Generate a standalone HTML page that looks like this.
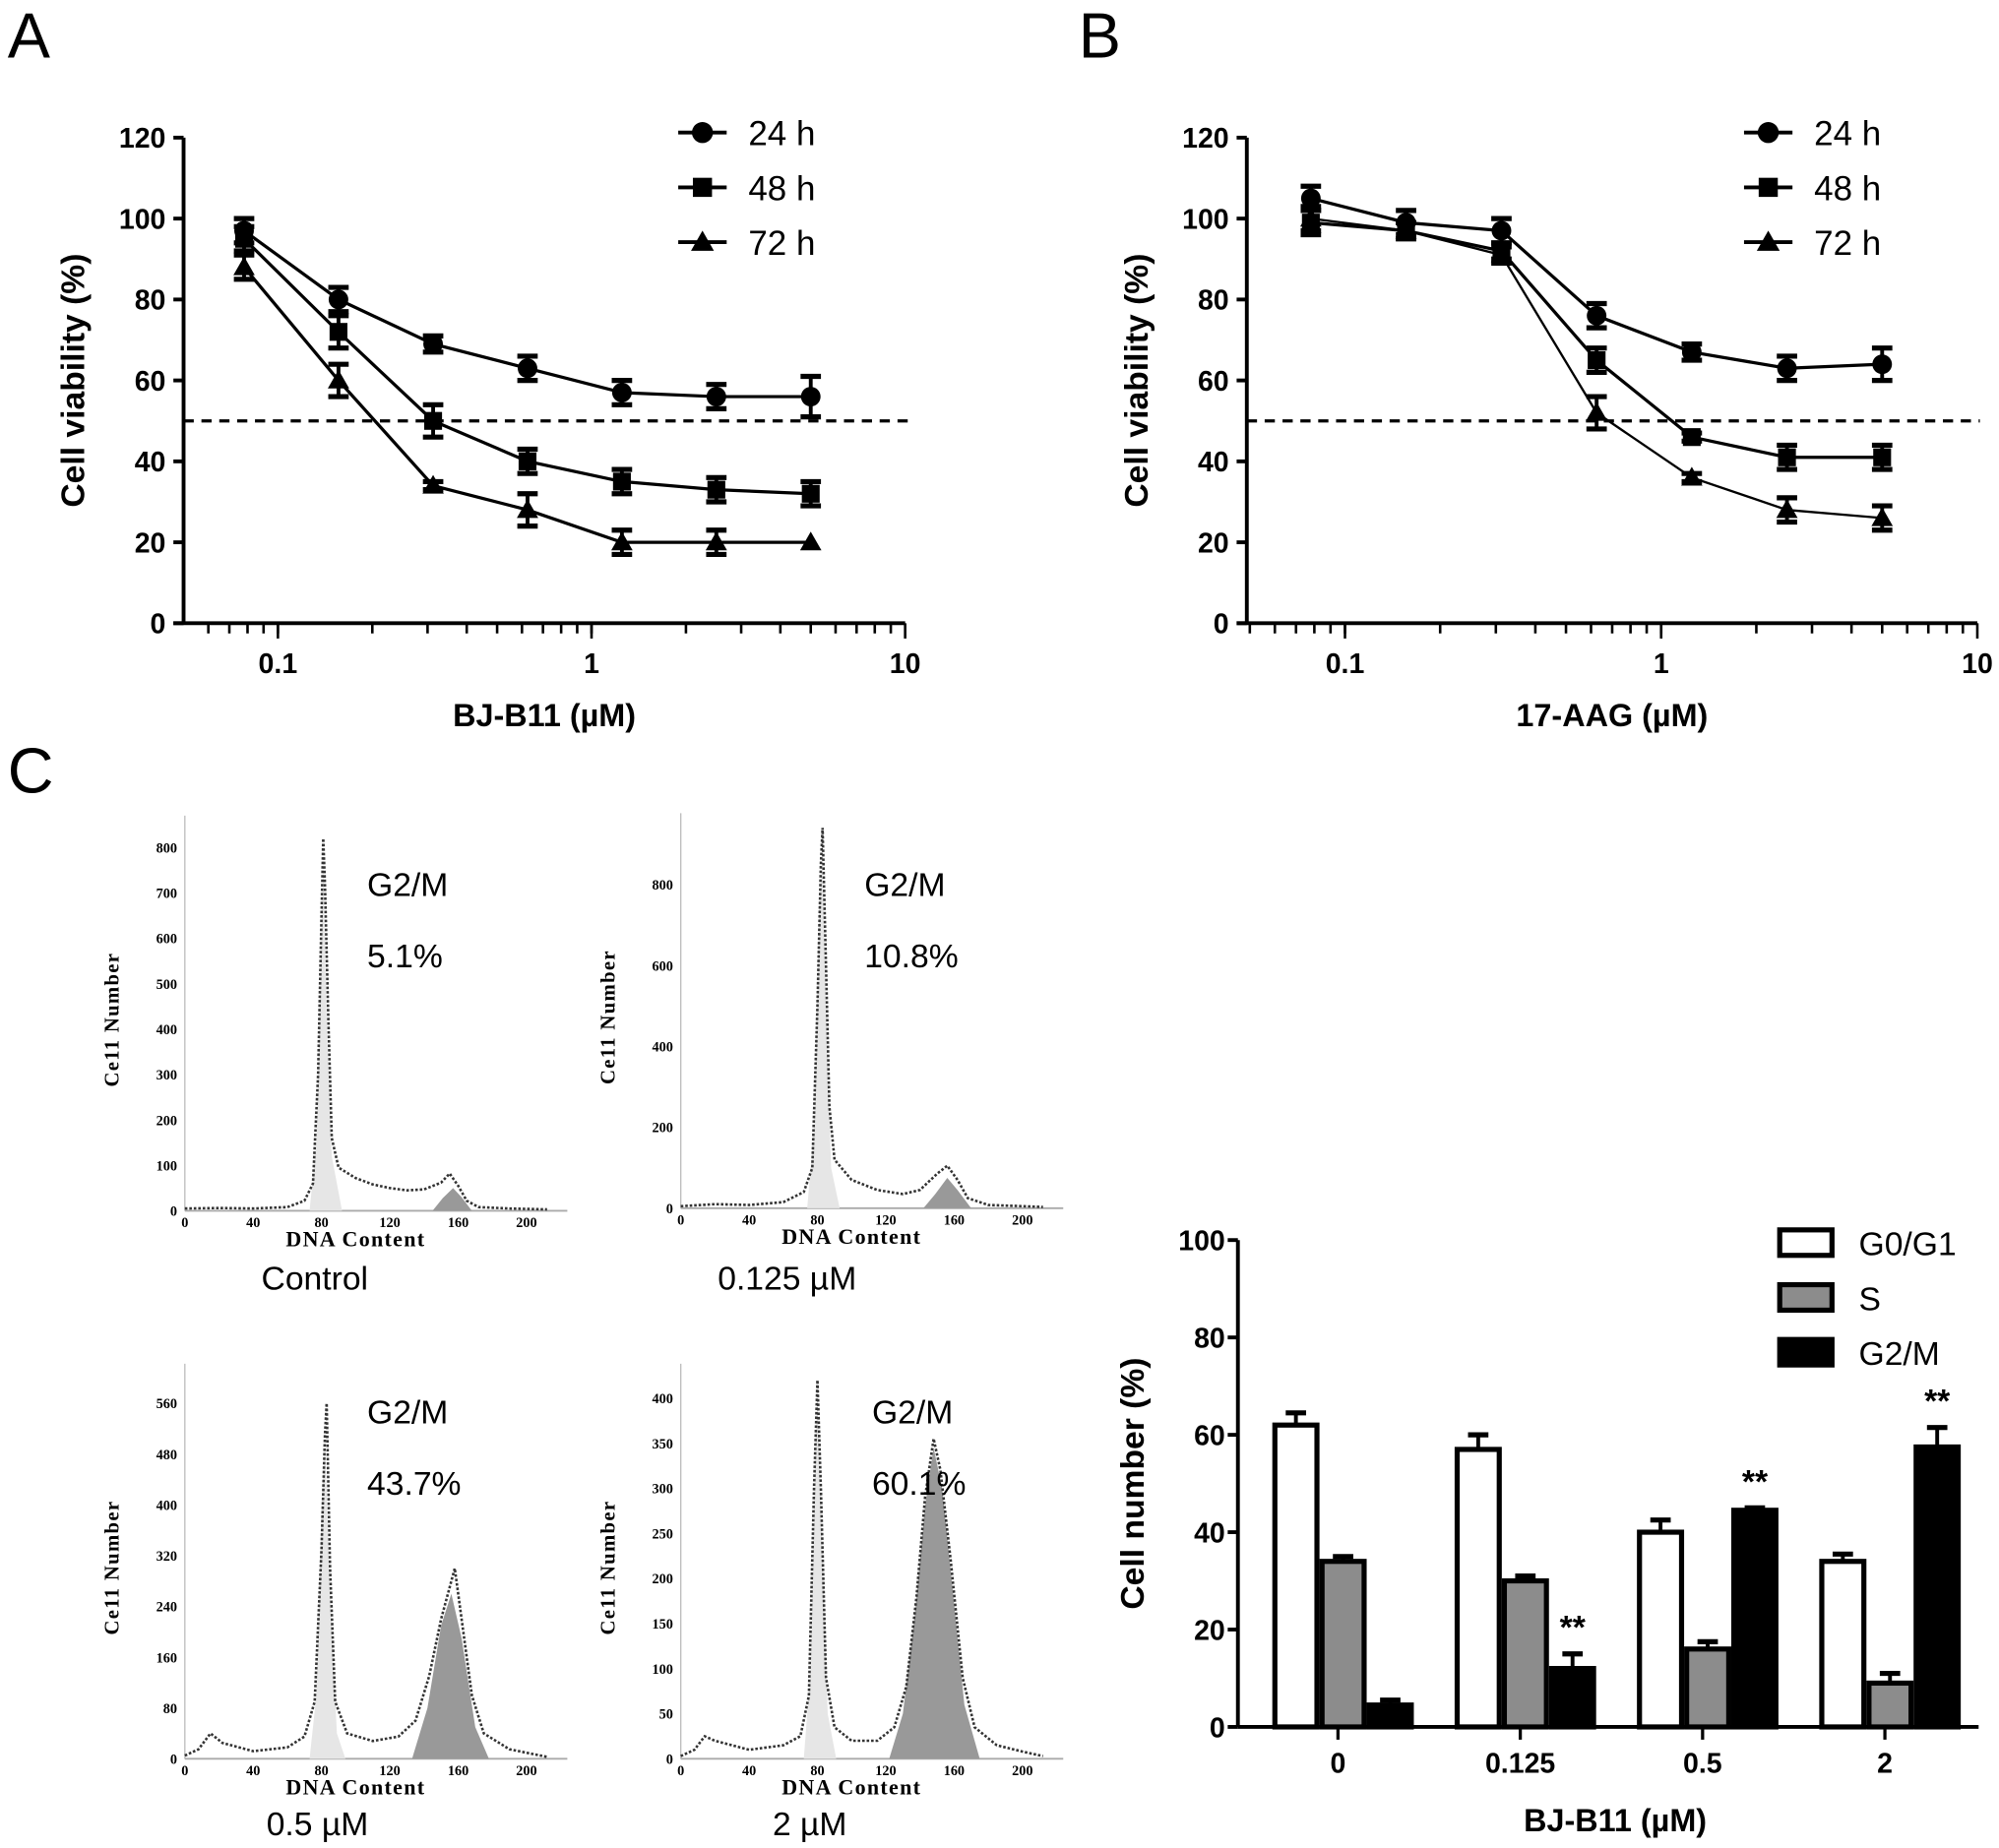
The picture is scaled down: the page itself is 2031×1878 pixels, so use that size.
<!DOCTYPE html>
<html><head><meta charset="utf-8"><style>
html,body{margin:0;padding:0;background:#fff;}
svg{display:block;}
text{font-family:"Liberation Sans",Arial,sans-serif;}
.tk{font-weight:bold;font-size:22px;}
.ser{font-family:"Liberation Serif",serif;font-weight:bold;}
</style></head><body>
<svg id="fig" width="2031" height="1878" viewBox="0 0 1568 1450" preserveAspectRatio="none" xmlns="http://www.w3.org/2000/svg">
<text x="6" y="45" font-size="50">A</text>
<text x="846" y="45" font-size="50">B</text>
<text x="6" y="622" font-size="50">C</text>
</svg>
<script>
const doses=[0.078,0.156,0.3125,0.625,1.25,2.5,5];
const seriesNames=['24 h','48 h','72 h'];
const aMean24=[97,80,69,63,57,56,56], aErr24=[3,3,2,3,3,3,5];
const aMean48=[95,72,50,40,35,33,32], aErr48=[3,4,4,3,3,3,3];
const aMean72=[88,60,34,28,20,20,20], aErr72=[3,4,1,4,3,3,0];
const bMean24=[105,99,97,76,67,63,64], bErr24=[3,3,3,3,2,3,4];
const bMean48=[99,97,92,65,46,41,41], bErr48=[3,2,2,3,1,3,3];
const bMean72=[100,97,91,52,36,28,26], bErr72=[3,2,2,4,1,3,3];
const yTicksLine=[0,20,40,60,80,100,120];
const xTicksLine=[0.1,1,10];
const barCats=['0','0.125','0.5','2'];
const barG1=[62,57,40,34], barG1Err=[2.5,3,2.5,1.5];
const barS=[34,30,16,9], barSErr=[1,1,1.5,2];
const barG2=[4.5,12,44.5,57.5], barG2Err=[1,3,0.5,4];
const barSig=['','**','**','**'];
const barYTicks=[0,20,40,60,80,100];
const barLegend=['G0/G1','S','G2/M'];
// histograms: [DNA content, cell count]
const h1Curve=[[0,5],[20,6],[40,5],[60,8],[70,22],[75,60],[78,300],[80,650],[81,820],[82,720],[84,420],[86,160],[90,95],[100,72],[110,58],[120,50],[130,45],[140,47],[150,62],[155,82],[160,55],[165,22],[172,8],[190,5],[212,3]];
const h1G1=[[73,0],[77,150],[80,620],[81,760],[83,420],[86,120],[92,0]];
const h1G2=[[145,0],[151,28],[157,50],[162,30],[168,0]];
const h2Curve=[[0,5],[20,10],[40,8],[60,15],[72,40],[77,100],[80,500],[82,850],[83,940],[85,600],[87,250],[90,120],[100,70],[115,45],[130,35],[140,45],[150,85],[156,105],[162,70],[168,25],[180,8],[200,5],[212,3]];
const h2G1=[[74,0],[78,200],[81,750],[83,860],[85,500],[88,100],[93,0]];
const h2G2=[[142,0],[149,35],[156,75],[162,45],[170,0]];
const h3Curve=[[0,5],[8,15],[15,40],[22,25],[40,12],[60,18],[70,35],[76,90],[80,330],[82,510],[83,560],[85,300],[88,90],[95,40],[110,28],[125,35],[135,60],[143,130],[150,220],[155,270],[158,300],[162,220],[168,100],[175,40],[190,15],[212,3]];
const h3G1=[[73,0],[77,100],[80,400],[82,500],[85,260],[89,40],[94,0]];
const h3G2=[[133,0],[142,80],[150,210],[156,260],[162,190],[170,50],[178,0]];
const h4Curve=[[0,3],[8,10],[14,25],[20,20],[40,10],[60,15],[70,25],[75,70],[78,300],[80,420],[82,300],[85,90],[90,35],[100,20],[115,20],[125,35],[132,80],[138,180],[143,290],[148,355],[152,320],[158,220],[165,90],[172,35],[185,15],[200,8],[212,3]];
const h4G1=[[72,0],[76,100],[79,360],[80,400],[82,280],[86,50],[91,0]];
const h4G2=[[122,0],[130,50],[137,160],[143,280],[148,345],[153,300],[159,190],[166,60],[175,0]];

const svg=document.getElementById('fig');
const NS='http://www.w3.org/2000/svg';
function mk(tag,attrs,parent){const e=document.createElementNS(NS,tag);for(const k in attrs)e.setAttribute(k,attrs[k]);(parent||svg).appendChild(e);return e;}

function lineChart(id,axX,mins,means,errs,xTitle,legX){
  const x0=axX,y0=489,y1=108;
  const dec=(id==='a')?246:248, xOne=(id==='a')?464:1303;
  const sx=v=>xOne+Math.log10(v)*dec;
  const sy=v=>y0-(v/120)*(y0-y1);
  const g=mk('g',{});
  
  
  const xEnd=sx(10);
  const ya=mk('line',{x1:x0,y1:y1,x2:x0,y2:y0,stroke:'#000','stroke-width':3},g);
  
  
  const xa=mk('line',{x1:x0-8,y1:y0,x2:xEnd,y2:y0,stroke:'#000','stroke-width':3},g);
  
  
  yTicksLine.forEach(v=>{
    mk('line',{x1:x0-8,y1:sy(v),x2:x0,y2:sy(v),stroke:'#000','stroke-width':3},g);
    const t=mk('text',{x:x0-14,y:sy(v)+8,'text-anchor':'end',class:'tk'},g);t.textContent=v;
    
    
  });
  for(let d=0.01;d<10;d*=10){for(let k=1;k<=10;k++){const v=d*k;const px=sx(v);if(px<x0||px>xEnd+1)continue;
    const major=(k===10);mk('line',{x1:px,y1:y0,x2:px,y2:y0+(major?12:8),stroke:'#000','stroke-width':2},g);}}
  xTicksLine.forEach(v=>{const t=mk('text',{x:sx(v),y:528,'text-anchor':'middle',class:'tk'},g);t.textContent=v;
    
    });
  const dl=mk('line',{x1:x0,y1:sy(50),x2:xEnd+2,y2:sy(50),stroke:'#000','stroke-width':2.5,'stroke-dasharray':'8,6'},g);
  
  
  const yl=mk('text',{x:0,y:0,transform:`translate(${x0-78},${(y0+y1)/2}) rotate(-90)`,'text-anchor':'middle','font-size':26,'font-weight':'bold'},g);
  yl.textContent='Cell viability (%)';
  
  
  const xl=mk('text',{x:(x0+xEnd)/2,y:570,'text-anchor':'middle','font-size':25,'font-weight':'bold'},g);
  xl.textContent=xTitle;
  
  
  const shapes=['circle','square','triangle'];
  function marker(cx,cy,s,parent,sz){
    if(s==='circle')return mk('circle',{cx:cx,cy:cy,r:sz*0.55,fill:'#000'},parent);
    if(s==='square')return mk('rect',{x:cx-sz/2,y:cy-sz/2,width:sz,height:sz,fill:'#000'},parent);
    return mk('polygon',{points:`${cx},${cy-sz*0.6} ${cx-sz*0.6},${cy+sz*0.45} ${cx+sz*0.6},${cy+sz*0.45}`,fill:'#000'},parent);
  }
  means.forEach((arr,si)=>{
    const sg=mk('g',{},g);
    
    
    const pts=arr.map((v,i)=>sx(doses[i])+','+sy(v)).join(' ');
    mk('polyline',{points:pts,fill:'none',stroke:'#000','stroke-width':si===2&&id==='b'?1.8:2.5},sg);
    arr.forEach((v,i)=>{
      const cx=sx(doses[i]),e=errs[si][i];
      if(e>0){mk('line',{x1:cx,y1:sy(v+e),x2:cx,y2:sy(v-e),stroke:'#000','stroke-width':3},sg);
        [v+e,v-e].forEach(w=>mk('line',{x1:cx-8,y1:sy(w),x2:cx+8,y2:sy(w),stroke:'#000','stroke-width':4},sg));}
      const m=marker(cx,sy(v),shapes[si],sg,14);
      
      
    });
  });
  seriesNames.forEach((n,i)=>{
    const ly=104+i*43;
    const lg=mk('g',{},g);
    
    
    mk('line',{x1:legX,y1:ly,x2:legX+38,y2:ly,stroke:'#000','stroke-width':3},lg);
    marker(legX+19,ly,shapes[i],lg,15);
    const t=mk('text',{x:legX+55,y:ly+10,'font-size':27},lg);t.textContent=n;
  });
}
lineChart('a',144,0,[aMean24,aMean48,aMean72],[aErr24,aErr48,aErr72],'BJ-B11 (\u00b5M)',532);
lineChart('b',978,0,[bMean24,bMean48,bMean72],[bErr24,bErr48,bErr72],'17-AAG (\u00b5M)',1368);

function hist(name,ox,axY,topY,maxV,step,curve,g1,g2,g2lab,pct,cond,condX,condY){
  const g=mk('g',{});
  
  
  const xs=v=>ox+v*1.34;
  const ys=v=>axY-v*(axY-topY)/maxV;
  mk('line',{x1:ox,y1:axY-310,x2:ox,y2:axY,stroke:'#bbb','stroke-width':1},g);
  mk('line',{x1:ox,y1:axY,x2:ox+300,y2:axY,stroke:'#aaa','stroke-width':1.5},g);
  for(let v=0;v<=maxV+0.1;v+=step){const t=mk('text',{x:ox-6,y:ys(v)+4,'text-anchor':'end','font-size':11,class:'ser'},g);t.textContent=v;
    
    }
  [0,40,80,120,160,200].forEach(v=>{const t=mk('text',{x:xs(v),y:axY+13,'text-anchor':'middle','font-size':11,class:'ser'},g);t.textContent=v;});
  const xt=mk('text',{x:xs(100),y:axY+28,'text-anchor':'middle','font-size':17,class:'ser','letter-spacing':'1'},g);xt.textContent='DNA  Content';
  
  
  const yt=mk('text',{x:0,y:0,transform:`translate(${ox-52},${axY-150}) rotate(-90)`,'text-anchor':'middle','font-size':16,class:'ser','letter-spacing':'1'},g);yt.textContent='Ce11  Number';
  
  
  const poly=a=>a.map(p=>xs(p[0])+','+ys(p[1])).join(' ');
  const f1=mk('polygon',{points:poly(g1),fill:'#e6e6e6'},g);
  
  
  const f2=mk('polygon',{points:poly(g2),fill:'#999'},g);
  
  
  const c=mk('polyline',{points:poly(curve),fill:'none',stroke:'#333','stroke-width':2,'stroke-dasharray':'2,1.5'},g);
  
  
  const l1=mk('text',{x:g2lab[0],y:g2lab[1],'font-size':26},g);l1.textContent='G2/M';
  
  
  const l2=mk('text',{x:g2lab[0],y:g2lab[1]+56,'font-size':26},g);l2.textContent=pct;
  
  
  const cl=mk('text',{x:condX,y:condY,'font-size':26},g);cl.textContent=cond;
  
  
}
hist('histogram-control',145,950,665,800,100,h1Curve,h1G1,h1G2,[288,703],'5.1%','Control',205,1012);
hist('histogram-0125',534,948,694,800,200,h2Curve,h2G1,h2G2,[678,703],'10.8%','0.125 \u00b5M',563,1012);
hist('histogram-05',145,1380,1101,560,80,h3Curve,h3G1,h3G2,[288,1117],'43.7%','0.5 \u00b5M',209,1440);
hist('histogram-2',534,1380,1097,400,50,h4Curve,h4G1,h4G2,[684,1117],'60.1%','2 \u00b5M',606,1440);

(function(){
  const x0=971,xEnd=1552,y0=1355,y1=973;
  const sy=v=>y0-v*(y0-y1)/100;
  const tick0=1049.5,sp=143;
  const g=mk('g',{});
  
  
  const fills=['#fff','#8c8c8c','#000'];
  const vals=[barG1,barS,barG2],errs=[barG1Err,barSErr,barG2Err];
  barCats.forEach((c,ci)=>{
    const center=tick0+ci*sp+4;
    vals.forEach((arr,si)=>{
      const bx=center+(si-1)*37;const v=arr[ci],e=errs[si][ci];
      mk('line',{x1:bx,y1:sy(v),x2:bx,y2:sy(v+e),stroke:'#000','stroke-width':3},g);
      mk('line',{x1:bx-8,y1:sy(v+e),x2:bx+8,y2:sy(v+e),stroke:'#000','stroke-width':4},g);
      const r=mk('rect',{x:bx-16.5,y:sy(v),width:33,height:y0-sy(v),fill:fills[si],stroke:'#000','stroke-width':4},g);
      
      
    });
    if(barSig[ci]){const bx=center+37;const t=mk('text',{x:bx,y:sy(barG2[ci]+barG2Err[ci])-12,'text-anchor':'middle','font-size':26,'font-weight':'bold'},g);t.textContent=barSig[ci];
      
      }
    mk('line',{x1:tick0+ci*sp,y1:y0,x2:tick0+ci*sp,y2:y0+10,stroke:'#000','stroke-width':2.5},g);
    const t=mk('text',{x:tick0+ci*sp,y:y0+36,'text-anchor':'middle',class:'tk'},g);t.textContent=c;
    
    
  });
  const ya=mk('line',{x1:x0,y1:y1,x2:x0,y2:y0,stroke:'#000','stroke-width':3},g);
  
  
  const xa=mk('line',{x1:x0,y1:y0,x2:xEnd,y2:y0,stroke:'#000','stroke-width':3},g);
  
  
  barYTicks.forEach(v=>{mk('line',{x1:x0-8,y1:sy(v),x2:x0,y2:sy(v),stroke:'#000','stroke-width':3},g);
    const t=mk('text',{x:x0-10,y:sy(v)+8,'text-anchor':'end',class:'tk'},g);t.textContent=v;
    
    });
  const yl=mk('text',{x:0,y:0,transform:`translate(${x0-74},${(y0+y1)/2}) rotate(-90)`,'text-anchor':'middle','font-size':26,'font-weight':'bold'},g);
  yl.textContent='Cell number (%)';
  
  
  const xl=mk('text',{x:1267,y:1437,'text-anchor':'middle','font-size':25,'font-weight':'bold'},g);
  xl.textContent='BJ-B11 (\u00b5M)';
  
  
  barLegend.forEach((n,i)=>{
    const ly=963+i*43;
    const lg=mk('g',{},g);
    
    
    mk('rect',{x:1396,y:ly+2,width:41,height:20,fill:fills[i],stroke:'#000','stroke-width':4},lg);
    const t=mk('text',{x:1458,y:ly+22,'font-size':26},lg);t.textContent=n;
  });
})();
</script>
</body></html>
